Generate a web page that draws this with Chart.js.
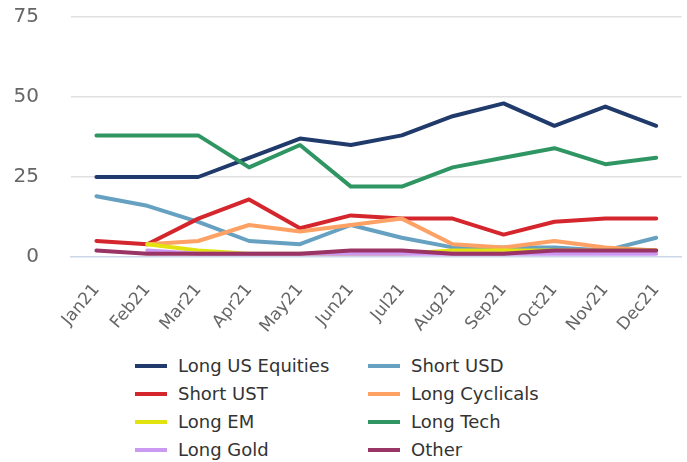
<!DOCTYPE html>
<html>
<head>
<meta charset="utf-8">
<script src="https://cdn.jsdelivr.net/npm/chart.js@4.4.1/dist/chart.umd.min.js"></script>
<style>
  body { margin: 0; background: #fff; }
  #wrap { position: relative; width: 687px; height: 462px; }
  #chart-box { position: absolute; left: 0; top: 0; width: 687px; height: 340px; }
  #legend {
    position: absolute; left: 135px; top: 352px;
    display: grid; grid-template-columns: 233px 200px;
    font-family: 'DejaVu Sans', sans-serif; font-size: 18px; color: #333;
  }
  .item { height: 28px; line-height: 28px; white-space: nowrap; }
  .swatch { display: inline-block; width: 32px; height: 4px; vertical-align: middle; margin-right: 11px; position: relative; top: -1px; }
</style>
</head>
<body>
<div id="wrap">
  <div id="chart-box"><canvas id="my-chart"></canvas></div>
  <div id="legend"></div>
</div>
<script>
'use strict'
///data///
let months = ['Jan21', 'Feb21', 'Mar21', 'Apr21', 'May21', 'Jun21', 'Jul21', 'Aug21', 'Sep21', 'Oct21', 'Nov21', 'Dec21']

let longUSEquities = [25, 25, 25, 31, 37, 35, 38, 44, 48, 41, 47, 41]
let shortUSD = [19, 16, 11, 5, 4, 10, 6, 3, 3, 3, 2, 6]
let shortUST = [5, 4, 12, 18, 9, 13, 12, 12, 7, 11, 12, 12]
let longCyclicals = [null, 4, 5, 10, 8, 10, 12, 4, 3, 5, 3, 2]
let longEM = [null, 4, 2, 1, 1, 1, 1, 2, 2, 2, 2, 2]
let longTech = [38, 38, 38, 28, 35, 22, 22, 28, 31, 34, 29, 31]
let longGold = [null, 2, 1, 1, 1, 1, 1, 1, 1, 1, 1, 1]
let other = [2, 1, 1, 1, 1, 2, 2, 1, 1, 2, 2, 2]

let seriesNames = ['Long US Equities', 'Short USD', 'Short UST', 'Long Cyclicals', 'Long EM', 'Long Tech', 'Long Gold', 'Other']
let seriesData = [longUSEquities, shortUSD, shortUST, longCyclicals, longEM, longTech, longGold, other]
let seriesColors = ['#1f3a6b', '#67a1c1', '#d4262c', '#fda264', '#e2e20e', '#2f9663', '#cc99f2', '#993465']

let yTicks = [0, 25, 50, 75]

let ctx = document.getElementById('my-chart').getContext('2d')

//build datasets, later series drawn on top
let datasets = []
for (let i = 0; i < seriesNames.length; i++) {
  datasets.push({
    label: seriesNames[i],
    data: seriesData[i],
    borderColor: seriesColors[i],
    backgroundColor: seriesColors[i],
    borderWidth: 4,
    borderJoinStyle: 'round',
    borderCapStyle: 'round',
    pointRadius: 0,
    tension: 0,
    order: seriesNames.length - i
  })
}

let chartObject = {
  type: 'line',
  data: {
    labels: months,
    datasets: datasets
  },
  options: {
    responsive: true,
    maintainAspectRatio: false,
    animation: false,
    layout: { padding: { top: 17, right: 4, left: 0, bottom: 0 } },
    plugins: {
      legend: { display: false },
      tooltip: { enabled: false }
    },
    scales: {
      x: {
        offset: true,
        grid: { display: false },
        border: { display: true, color: '#ccd6eb', width: 1.5 },
        ticks: {
          minRotation: 50,
          maxRotation: 50,
          autoSkip: false,
          padding: 15,
          color: '#666',
          font: { family: 'DejaVu Sans', size: 17 }
        },
        afterFit: function (scale) { scale.height = 83 }
      },
      y: {
        min: yTicks[0],
        max: yTicks[yTicks.length - 1],
        afterBuildTicks: function (scale) {
          scale.ticks = yTicks.map(v => ({ value: v }))
        },
        grid: {
          drawTicks: true,
          tickLength: 29,
          tickColor: 'rgba(0,0,0,0)',
          color: c => (c.tick && c.tick.value === 0) ? 'rgba(0,0,0,0)' : '#e0e0e0',
          lineWidth: 1.5
        },
        border: { display: false },
        ticks: {
          padding: 3,
          color: '#666',
          font: { family: 'DejaVu Sans', size: 20 }
        },
        afterFit: function (scale) { scale.width = 71 }
      }
    }
  }
}

const myChart = new Chart(ctx, chartObject)

///legend, two columns like the original
let legendBox = document.getElementById('legend')
for (let i = 0; i < seriesNames.length; i++) {
  let item = document.createElement('div')
  item.className = 'item'
  let sw = document.createElement('span')
  sw.className = 'swatch'
  sw.style.background = seriesColors[i]
  item.appendChild(sw)
  item.appendChild(document.createTextNode(seriesNames[i]))
  legendBox.appendChild(item)
}
</script>
</body>
</html>
